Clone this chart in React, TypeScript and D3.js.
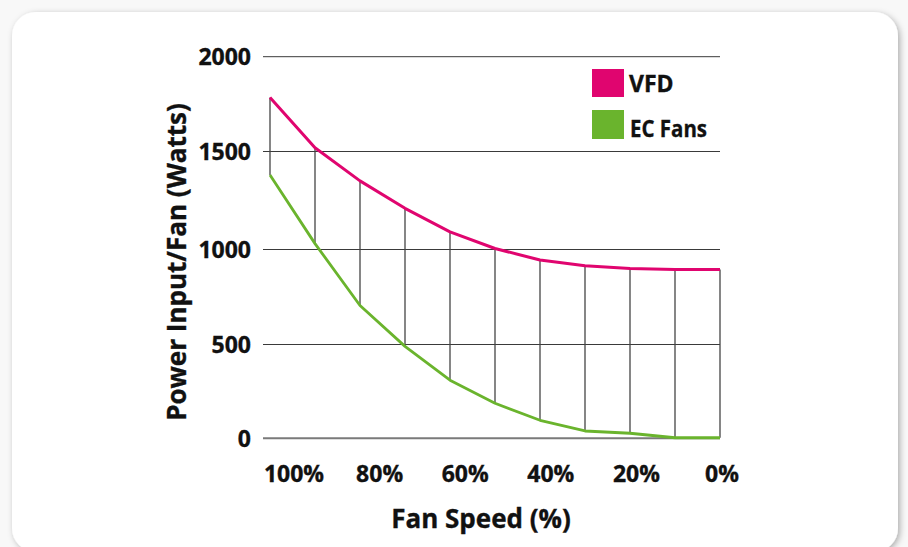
import React from "react";
import * as d3 from "d3";

const speeds = [100, 90, 80, 70, 60, 50, 40, 30, 20, 10, 0];
const vfd = [1785, 1520, 1350, 1210, 1090, 1005, 945, 915, 900, 895, 895];
const ecFans = [1380, 1030, 705, 490, 310, 187, 96, 39, 27, 3, 3];
const yTicks = [0, 500, 1000, 1500, 2000];
const xTickValues = [100, 80, 60, 40, 20, 0];
const xTickLabels = ["100%", "80%", "60%", "40%", "20%", "0%"];
const seriesNames = ["VFD", "EC Fans"];

const W = 908;
const H = 547;
const PINK = "#e0056f";
const GREEN = "#6ab42d";
const FONT = "'Open Sans', 'DejaVu Sans', sans-serif";

export default function App() {
  const x = d3.scaleLinear().domain([100, 0]).range([270, 720]);
  const xLab = d3.scaleLinear().domain([100, 0]).range([294, 722]);
  const y = d3
    .scaleLinear()
    .domain([0, 500, 1000, 1500, 2000])
    .range([438.3, 344.5, 249.5, 151.5, 56.7]);

  const line = d3
    .line<number>()
    .x((_, i) => x(speeds[i]))
    .y((d) => y(d));

  const gridX0 = 263;
  const gridX1 = 720;
  const textStyle = { stroke: "#111", strokeWidth: 0.35 };

  return (
    <svg
      width={W}
      height={H}
      style={{ position: "absolute", left: 0, top: 0, display: "block" }}
      fontFamily={FONT}
    >
      <defs>
        <filter id="shadow" x="-5%" y="-5%" width="110%" height="110%">
          <feDropShadow dx="2" dy="2" stdDeviation="3" floodColor="#000" floodOpacity="0.3" />
        </filter>
      </defs>
      <rect x={0} y={0} width={W} height={H} fill="#f8f8f8" />
      <rect x={12} y={12} width={886} height={540} rx={24} ry={24} fill="#fff" filter="url(#shadow)" />

      {yTicks.map((t) => (
        <line
          key={t}
          x1={gridX0}
          x2={gridX1}
          y1={y(t)}
          y2={y(t)}
          stroke={t === 0 ? "#7a7a7a" : "#3a3a3a"}
          strokeWidth={t === 0 ? 2 : 1}
        />
      ))}

      {speeds.map((s, i) => (
        <line
          key={s}
          x1={x(s)}
          x2={x(s)}
          y1={y(vfd[i])}
          y2={y(ecFans[i])}
          stroke="#444"
          strokeWidth={1.3}
        />
      ))}

      <path d={line(ecFans) || ""} fill="none" stroke={GREEN} strokeWidth={2.8} strokeLinejoin="round" />
      <path d={line(vfd) || ""} fill="none" stroke={PINK} strokeWidth={3} strokeLinejoin="round" />

      {yTicks.map((t) => (
        <text
          key={t}
          x={251}
          y={y(t)}
          dy="0.36em"
          textAnchor="end"
          fontSize={23}
          fontWeight={700}
          fill="#111"
          style={textStyle}
        >
          {t}
        </text>
      ))}

      {xTickValues.map((v, i) => (
        <text
          key={v}
          x={xLab(v)}
          y={481.5}
          textAnchor="middle"
          fontSize={23}
          fontWeight={700}
          fill="#111"
          style={textStyle}
        >
          {xTickLabels[i]}
        </text>
      ))}

      <text x={481} y={528} textAnchor="middle" fontSize={26} fontWeight={700} fill="#111" style={textStyle}>
        Fan Speed (%)
      </text>
      <text
        transform="translate(186,262) rotate(-90)"
        textAnchor="middle"
        fontSize={26}
        fontWeight={700}
        fill="#111"
        style={textStyle}
      >
        Power Input/Fan (Watts)
      </text>

      <rect x={592} y={69} width={32} height={28} fill={PINK} />
      <rect x={592} y={110} width={32} height={29} fill={GREEN} />
      <text x={629} y={91.7} fontSize={23} fontWeight={700} fill="#111" style={textStyle}>
        {seriesNames[0]}
      </text>
      <text
        x={630}
        y={137}
        fontSize={23}
        fontWeight={700}
        fill="#111"
        textLength={77}
        lengthAdjust="spacingAndGlyphs"
        style={textStyle}
      >
        {seriesNames[1]}
      </text>
    </svg>
  );
}
